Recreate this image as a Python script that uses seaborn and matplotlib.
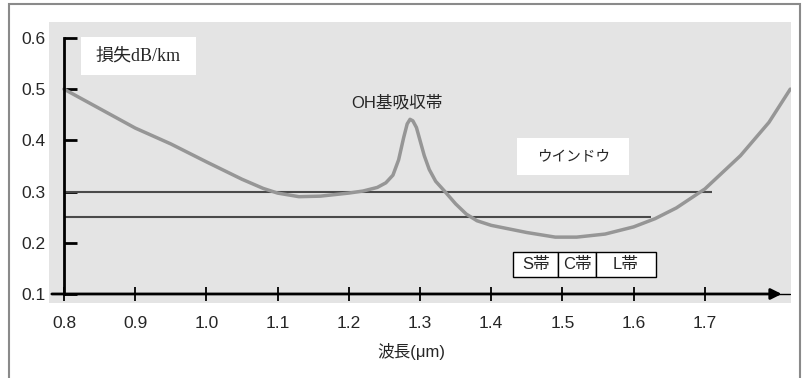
import seaborn as sns
import pandas as pd
from matplotlib import pyplot as plt
from matplotlib.patches import Rectangle

# loss curve
wavelength = [0.80, 0.85, 0.90, 0.95, 1.00, 1.05, 1.08, 1.10, 1.13, 1.16, 1.20, 1.22, 1.24,
              1.252, 1.262, 1.270, 1.277, 1.282, 1.286, 1.290, 1.295, 1.300, 1.306,
              1.313, 1.322, 1.335, 1.35, 1.365, 1.38, 1.40, 1.45, 1.49, 1.52, 1.56,
              1.60, 1.63, 1.66, 1.70, 1.75, 1.79, 1.82]
loss = [0.500, 0.462, 0.424, 0.393, 0.358, 0.324, 0.306, 0.297, 0.290, 0.291, 0.297, 0.301, 0.308,
        0.317, 0.332, 0.362, 0.405, 0.432, 0.441, 0.438, 0.425, 0.400, 0.370,
        0.343, 0.320, 0.300, 0.276, 0.256, 0.243, 0.234, 0.220, 0.211, 0.211, 0.217,
        0.231, 0.247, 0.268, 0.305, 0.370, 0.435, 0.500]

# horizontal reference lines
ref_levels = [0.30, 0.25]
ref_ends = [1.71, 1.625]

# band boxes
band_names = ['S帯', 'C帯', 'L帯']
band_edges = [1.431, 1.494, 1.547, 1.631]
band_bottom, band_top = 0.133, 0.182

x_ticks = [0.8, 0.9, 1.0, 1.1, 1.2, 1.3, 1.4, 1.5, 1.6, 1.7]
y_ticks = [0.1, 0.2, 0.3, 0.4, 0.5, 0.6]

sns.set_style('white')
plt.rcParams['font.family'] = ['Liberation Sans', 'Noto Sans CJK JP']
jp = ['Liberation Sans', 'Noto Sans CJK JP']

fig = plt.figure(figsize=(8.03, 3.78), dpi=100)
ax = fig.add_axes([49 / 803, 75 / 378, 742 / 803, 281 / 378])
ax.set_facecolor('#e4e4e4')

df = pd.DataFrame({'wavelength': wavelength, 'loss': loss})
sns.lineplot(data=df, x='wavelength', y='loss', ax=ax, color='#969696', lw=2.5, sort=False)

ax.hlines(ref_levels, 0.8, ref_ends, color='#4a4a4a', lw=1.5, zorder=1)

ax.set_xlim(0.779, 1.821)
ax.set_ylim(0.0824, 0.631)

# axes
for s in ['top', 'right', 'bottom']:
    ax.spines[s].set_visible(False)
ax.spines['left'].set_position(('data', 0.8))
ax.spines['left'].set_bounds(0.1, 0.6)
ax.spines['left'].set_linewidth(2)
ax.spines['left'].set_color('black')
ax.spines['bottom'].set_position(('data', 0.1))
ax.annotate('', xy=(1.808, 0.1), xytext=(0.783, 0.1),
            arrowprops=dict(arrowstyle='-|>', lw=2, color='black', mutation_scale=16,
                            shrinkA=0, shrinkB=0))
ax.plot([1.80, 1.82], [0.1, 0.1], color='black', lw=1)

ax.set_xticks(x_ticks)
ax.set_xticklabels([f'{v:.1f}' for v in x_ticks])
ax.set_yticks(y_ticks)
ax.set_yticklabels([f'{v:.1f}' for v in y_ticks])
ax.tick_params(axis='y', direction='in', length=9.5, width=2, pad=13.5, labelsize=12.5,
               left=True, color='black')
ax.tick_params(axis='x', direction='inout', length=10, width=1.3, pad=10.5, labelsize=12.5,
               bottom=True, color='black')
ax.set_ylabel('')
ax.set_xlabel('波長(μm)', fontsize=12, family=jp)
ax.xaxis.set_label_coords(0.488, -0.143)

# y label box
ax.add_patch(Rectangle((0.824, 0.527), 0.161, 0.075, facecolor='white', edgecolor='none', zorder=3))
ax.text(0.904, 0.565, '損失dB/km', fontsize=13, family=['Liberation Serif', 'Noto Sans CJK JP'],
        ha='center', va='center', zorder=4)

ax.text(1.268, 0.473, 'OH基吸収帯', fontsize=12, family=jp, ha='center', va='center')

ax.add_patch(Rectangle((1.436, 0.333), 0.158, 0.071, facecolor='white', edgecolor='none', zorder=3))
ax.text(1.515, 0.368, 'ウインドウ', fontsize=10.5, family=jp, ha='center', va='center', zorder=4)

for name, x0, x1 in zip(band_names, band_edges[:-1], band_edges[1:]):
    ax.add_patch(Rectangle((x0, band_bottom), x1 - x0, band_top - band_bottom,
                           facecolor='white', edgecolor='black', lw=1, zorder=3))
    ax.text((x0 + x1) / 2, (band_bottom + band_top) / 2, name, fontsize=12, family=jp,
            ha='center', va='center', zorder=4)

fig.patches.append(Rectangle((9 / 803, -0.05), 791 / 803, 374 / 378 + 0.05, transform=fig.transFigure,
                             facecolor='none', edgecolor='#8a8a8a', lw=1.5))

fig.savefig('out.png', dpi=100)
